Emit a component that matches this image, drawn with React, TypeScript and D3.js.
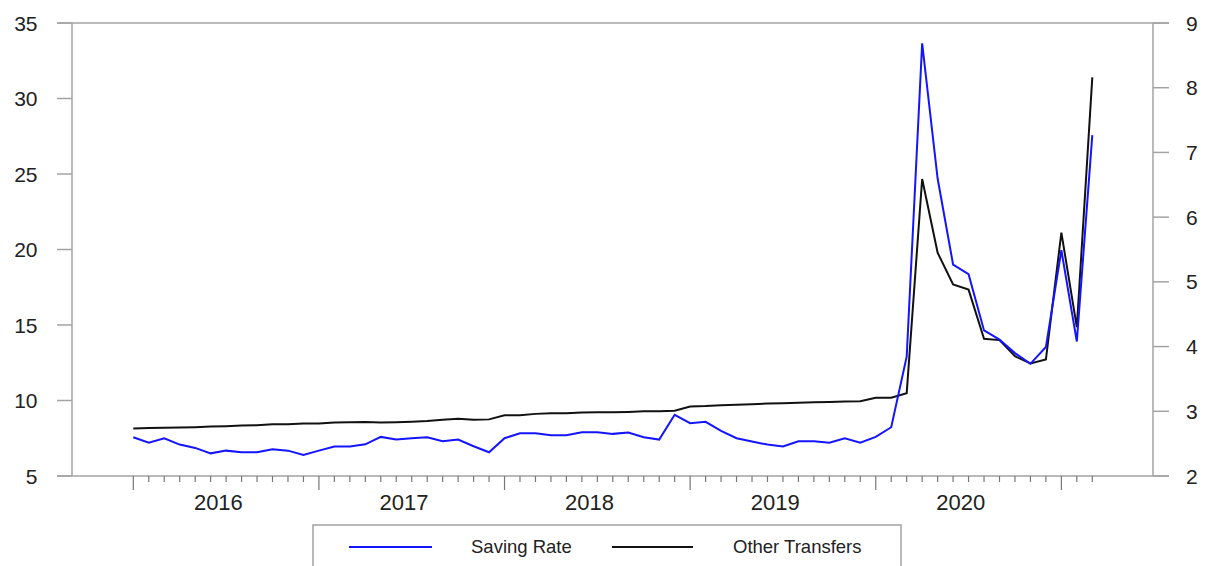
import React from "react";
import * as d3 from "d3";

// monthly, Jan 2016 .. Mar 2021
const years = [2016, 2017, 2018, 2019, 2020];
const startYear = 2016;

// left axis (%)
const savingRate = [
  7.57, 7.2, 7.5, 7.08, 6.86, 6.5, 6.68, 6.57, 6.57, 6.77, 6.68, 6.4,
  6.68, 6.95, 6.95, 7.1, 7.59, 7.41, 7.5, 7.57, 7.3, 7.41, 6.97, 6.57,
  7.5, 7.83, 7.83, 7.7, 7.7, 7.9, 7.9, 7.79, 7.88, 7.57, 7.41, 9.05,
  8.5, 8.59, 7.99, 7.5, 7.28, 7.08, 6.95, 7.3, 7.3, 7.2, 7.5, 7.2,
  7.59, 8.23, 12.9, 33.65, 24.7, 19.0, 18.36, 14.64, 14.03, 13.14, 12.43, 13.54,
  19.95, 13.91, 27.57,
];

// right axis
const otherTransfers = [
  2.735, 2.74, 2.745, 2.75, 2.755, 2.765, 2.77, 2.78, 2.785, 2.8, 2.8, 2.81,
  2.81, 2.825, 2.83, 2.835, 2.825, 2.83, 2.84, 2.85, 2.87, 2.885, 2.87, 2.875,
  2.94, 2.94, 2.96, 2.97, 2.97, 2.98, 2.985, 2.985, 2.99, 3.0, 3.0, 3.01,
  3.075, 3.08, 3.095, 3.1, 3.11, 3.12, 3.125, 3.13, 3.14, 3.145, 3.15, 3.155,
  3.21, 3.21, 3.28, 6.59, 5.45, 4.96, 4.88, 4.12, 4.1, 3.85, 3.74, 3.8,
  5.76, 4.3, 8.16,
];

const leftTicks = [5, 10, 15, 20, 25, 30, 35];
const rightTicks = [2, 3, 4, 5, 6, 7, 8, 9];

const W = 1210;
const H = 566;
const left = 72, right = 1153, top = 23, bottom = 476;
const frameL = 57, frameR = 1169;
const axisColor = "#a3a3a3";
const font = "'Liberation Sans', Arial, sans-serif";

export default function App() {
  const idx = d3.range(savingRate.length);
  const x = d3.scaleLinear().domain([0, 62]).range([133.3, 1092.3]);
  const yL = d3.scaleLinear().domain([5, 35]).range([bottom, top]);
  const yR = d3.scaleLinear().domain([2, 9]).range([bottom, top]);

  const lineL = d3.line<number>().x((i) => x(i)).y((i) => yL(savingRate[i]));
  const lineR = d3.line<number>().x((i) => x(i)).y((i) => yR(otherTransfers[i]));

  return (
    <svg
      width={W}
      height={H}
      style={{ position: "absolute", left: 0, top: 0, background: "#fff" }}
      fontFamily={font}
    >
      {/* frame */}
      <line x1={frameL} x2={frameR} y1={top} y2={top} stroke={axisColor} strokeWidth={1.5} />
      <line x1={frameL} x2={frameR} y1={bottom} y2={bottom} stroke={axisColor} strokeWidth={1.5} />
      <line x1={left} x2={left} y1={top} y2={bottom} stroke={axisColor} strokeWidth={1.5} />
      <line x1={right} x2={right} y1={top} y2={bottom} stroke={axisColor} strokeWidth={1.5} />

      {/* left axis */}
      {leftTicks.map((t) => (
        <g key={"l" + t}>
          <line x1={frameL} x2={left} y1={yL(t)} y2={yL(t)} stroke={axisColor} strokeWidth={1.5} />
          <text x={37.5} y={yL(t)} dy="0.36em" textAnchor="end" fontSize={21} fill="#222">
            {t}
          </text>
        </g>
      ))}

      {/* right axis */}
      {rightTicks.map((t) => (
        <g key={"r" + t}>
          <line x1={right} x2={frameR} y1={yR(t)} y2={yR(t)} stroke={axisColor} strokeWidth={1.5} />
          <text x={1186} y={yR(t)} dy="0.36em" textAnchor="start" fontSize={21} fill="#222">
            {t}
          </text>
        </g>
      ))}

      {/* month ticks */}
      {idx.map((i) => (
        <line
          key={"m" + i}
          x1={x(i)}
          x2={x(i)}
          y1={bottom}
          y2={bottom + (i % 12 === 0 ? 14 : 6)}
          stroke="#777"
          strokeWidth={1.2}
        />
      ))}
      {years.map((yr) => (
        <text
          key={yr}
          x={x((yr - startYear) * 12 + 5.5)}
          y={510}
          textAnchor="middle"
          fontSize={22}
          fill="#222"
        >
          {yr}
        </text>
      ))}

      {/* series */}
      <path d={lineR(idx) || ""} fill="none" stroke="#111" strokeWidth={2} />
      <path d={lineL(idx) || ""} fill="none" stroke="#1414ff" strokeWidth={2} />

      {/* legend */}
      <rect x={313} y={525} width={588} height={60} fill="none" stroke={axisColor} strokeWidth={1.5} />
      <line x1={349} x2={432} y1={547} y2={547} stroke="#1414ff" strokeWidth={2} />
      <text x={471} y={553} fontSize={18.5} fill="#222">Saving Rate</text>
      <line x1={612} x2={693} y1={547} y2={547} stroke="#111" strokeWidth={2} />
      <text x={733} y={553} fontSize={18.5} fill="#222">Other Transfers</text>
    </svg>
  );
}
